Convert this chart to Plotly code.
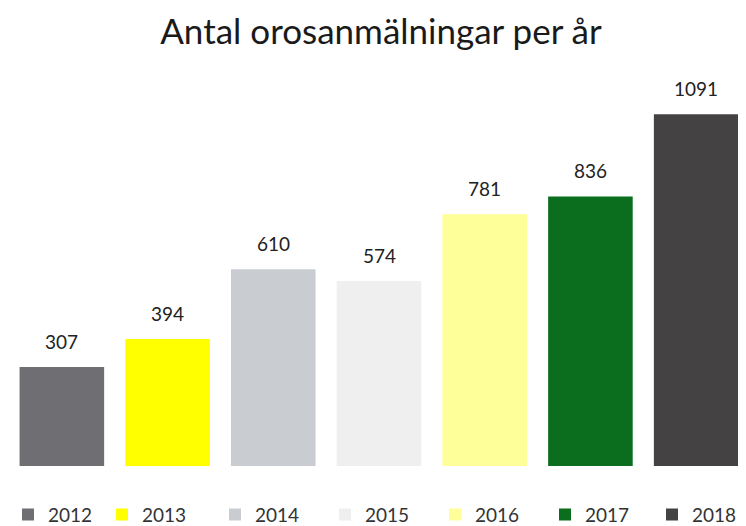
import plotly.graph_objects as go

years = ["2012", "2013", "2014", "2015", "2016", "2017", "2018"]
counts = [307, 394, 610, 574, 781, 836, 1091]
colors = ["#6f6e73", "#ffff00", "#c9cdd2", "#efefef", "#ffff99", "#0a6e1e", "#454244"]
# left edge (px) of each legend entry's text in the reference
legend_text_x = [32, 140, 253, 363, 473, 583, 690]

ML, MR = 1, 5
W = 746
plot_w = W - ML - MR

fig = go.Figure()
legend_layouts = {}
for i, (yr, val, col) in enumerate(zip(years, counts, colors)):
    lname = "legend" if i == 0 else f"legend{i + 1}"
    fig.add_trace(go.Bar(x=[yr], y=[val], name=yr, marker=dict(color=col, line=dict(width=0)),
                         width=0.8, showlegend=True, legend=lname))
    fig.add_annotation(x=i, y=val, xref="x", yref="y", text=str(val), showarrow=False,
                       yanchor="bottom", yshift=12,
                       font=dict(family="Lato", size=19, color="#222222"))
    fig_x = legend_text_x[i] - 46
    legend_layouts[lname] = dict(
        orientation="h", xref="paper", yref="container",
        x=(fig_x - ML) / plot_w, y=0.037, xanchor="left", yanchor="middle",
        bgcolor="rgba(0,0,0,0)",
        font=dict(family="Lato", size=19, color="#333333"))

fig.update_layout(
    width=W, height=526,
    barmode="overlay",
    paper_bgcolor="white", plot_bgcolor="white",
    margin=dict(l=ML, r=MR, t=71, b=68),
    title=dict(text="Antal orosanmälningar per år", x=0.5, xanchor="center", y=0.954, yanchor="middle",
               font=dict(family="Lato", size=35, color="#1a1a1a")),
    xaxis=dict(type="category", showticklabels=False, showgrid=False, zeroline=False, showline=False,
               range=[-0.5, 6.5]),
    yaxis=dict(range=[0, 1200], visible=False, showgrid=False, zeroline=False),
    showlegend=True,
    **legend_layouts,
)

fig.write_html("out.html")
